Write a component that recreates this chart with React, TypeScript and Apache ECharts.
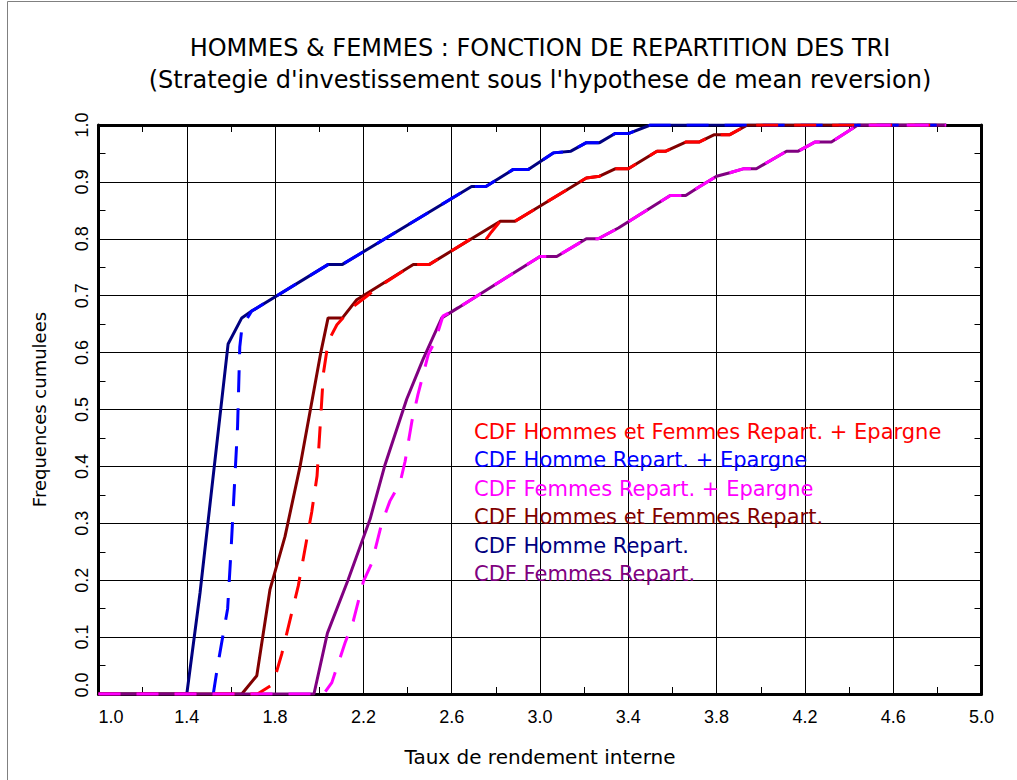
import React, { useEffect, useRef } from 'react';
import * as echarts from 'echarts';

const TITLE_1 = 'HOMMES & FEMMES : FONCTION DE REPARTITION DES TRI';
const TITLE_2 = "(Strategie d'investissement sous l'hypothese de mean reversion)";
const X_NAME = 'Taux de rendement interne';
const Y_NAME = 'Frequences cumulees';

const X_MIN = 1.0;
const X_MAX = 5.0;
const X_STEP = 0.4;
const Y_MIN = 0;
const Y_MAX = 1;
const Y_STEP = 0.1;

// CDF Hommes et Femmes Repart. + Epargne
const hfEpargne: number[][] = [
  [1.0, 0], [1.72, 0], [1.79, 0.017], [1.83, 0.07], [1.905, 0.19], [1.966, 0.32], [1.99, 0.383],
  [2.004, 0.47], [2.019, 0.564], [2.041, 0.62], [2.08, 0.649], [2.154, 0.681], [2.215, 0.699],
  [2.26, 0.713], [2.426, 0.755], [2.499, 0.755], [2.683, 0.799], [2.755, 0.799], [2.78, 0.812],
  [2.82, 0.831], [2.887, 0.831], [3.21, 0.907], [3.27, 0.91], [3.34, 0.923], [3.4, 0.923],
  [3.53, 0.954], [3.57, 0.954], [3.66, 0.97], [3.72, 0.97], [3.79, 0.983], [3.86, 0.983],
  [3.94, 1.0], [4.84, 1.0],
];

// CDF Homme Repart. + Epargne
const hommeEpargne: number[][] = [
  [1.0, 0], [1.52, 0], [1.54, 0.05], [1.585, 0.15], [1.6, 0.25], [1.615, 0.36], [1.63, 0.47],
  [1.64, 0.61], [1.65, 0.645], [1.694, 0.673], [2.041, 0.755], [2.105, 0.755], [2.69, 0.892],
  [2.755, 0.892], [2.879, 0.922], [2.947, 0.922], [3.06, 0.951], [3.14, 0.954], [3.21, 0.969],
  [3.27, 0.969], [3.34, 0.985], [3.4, 0.985], [3.5, 1.0], [4.84, 1.0],
];

// CDF Femmes Repart. + Epargne
const femmesEpargne: number[][] = [
  [1.0, 0], [2.02, 0], [2.057, 0.02], [2.117, 0.09], [2.154, 0.128], [2.2, 0.198], [2.238, 0.23],
  [2.283, 0.3], [2.32, 0.339], [2.366, 0.371], [2.389, 0.409], [2.42, 0.48], [2.447, 0.526],
  [2.494, 0.597], [2.525, 0.62], [2.56, 0.664], [2.63, 0.679], [3.0, 0.769], [3.076, 0.769],
  [3.21, 0.8], [3.264, 0.8], [3.355, 0.819], [3.59, 0.876], [3.66, 0.876], [3.72, 0.891],
  [3.8, 0.91], [3.86, 0.916], [3.92, 0.923], [3.98, 0.923], [4.117, 0.954], [4.17, 0.954],
  [4.245, 0.97], [4.32, 0.97], [4.44, 1.0], [4.84, 1.0],
];

// CDF Hommes et Femmes Repart.
const hfRepart: number[][] = [
  [1.0, 0], [1.649, 0], [1.717, 0.032], [1.777, 0.184], [1.845, 0.277], [1.913, 0.4], [2.007, 0.6],
  [2.04, 0.661], [2.105, 0.661], [2.17, 0.693], [2.426, 0.755], [2.499, 0.755], [2.82, 0.831],
  [2.887, 0.831], [3.21, 0.907], [3.27, 0.91], [3.34, 0.923], [3.4, 0.923], [3.53, 0.954],
  [3.57, 0.954], [3.66, 0.97], [3.72, 0.97], [3.79, 0.983], [3.86, 0.983], [3.94, 1.0], [4.84, 1.0],
];

// CDF Homme Repart.
const hommeRepart: number[][] = [
  [1.0, 0], [1.4, 0], [1.46, 0.178], [1.587, 0.615], [1.649, 0.661], [1.694, 0.673], [2.041, 0.755],
  [2.105, 0.755], [2.69, 0.892], [2.755, 0.892], [2.879, 0.922], [2.947, 0.922], [3.06, 0.951],
  [3.14, 0.954], [3.21, 0.969], [3.27, 0.969], [3.34, 0.985], [3.4, 0.985], [3.5, 1.0], [4.84, 1.0],
];

// CDF Femmes Repart.
const femmesRepart: number[][] = [
  [1.0, 0], [1.976, 0], [2.037, 0.107], [2.13, 0.2], [2.23, 0.307], [2.298, 0.403], [2.396, 0.518],
  [2.47, 0.588], [2.555, 0.661], [2.63, 0.679], [3.0, 0.769], [3.076, 0.769], [3.21, 0.8],
  [3.264, 0.8], [3.355, 0.819], [3.59, 0.876], [3.66, 0.876], [3.72, 0.891], [3.8, 0.91],
  [3.86, 0.916], [3.92, 0.923], [3.98, 0.923], [4.117, 0.954], [4.17, 0.954], [4.245, 0.97],
  [4.32, 0.97], [4.44, 1.0], [4.84, 1.0],
];

const SERIES_NAMES = [
  'CDF Hommes et Femmes Repart. + Epargne',
  'CDF Homme Repart. + Epargne',
  'CDF Femmes Repart. + Epargne',
  'CDF Hommes et Femmes Repart.',
  'CDF Homme Repart.',
  'CDF Femmes Repart.',
];
const SERIES_COLORS = ['#ff0000', '#0000ff', '#ff00ff', '#800000', '#000080', '#800080'];
const SERIES_DASHED = [true, true, true, false, false, false];
const SERIES_DATA = [hfEpargne, hommeEpargne, femmesEpargne, hfRepart, hommeRepart, femmesRepart];
// draw solid curves first, dashed on top
const DRAW_ORDER = [4, 3, 5, 1, 0, 2];

const LABEL_FONT = 'Liberation Sans, Arial, sans-serif';
const TEXT_FONT = 'DejaVu Sans, Verdana, sans-serif';

function buildOption() {
  const axisLine = { show: true, onZero: false, lineStyle: { color: '#000', width: 3 } };
  const axisTick = { show: true, inside: true, length: 7, lineStyle: { color: '#000', width: 1 } };
  const minorTick = { show: true, splitNumber: 2, length: 7, lineStyle: { color: '#000', width: 1 } };
  const fmt = (v: number) => v.toFixed(1);

  return {
    animation: false,
    backgroundColor: '#ffffff',
    title: [
      {
        text: TITLE_1,
        left: 540,
        top: 36,
        padding: 0,
        textAlign: 'center',
        textStyle: { fontFamily: TEXT_FONT, fontSize: 24, fontWeight: 'normal', color: '#000' },
      },
      {
        text: TITLE_2,
        left: 540,
        top: 68,
        padding: 0,
        textAlign: 'center',
        textStyle: { fontFamily: TEXT_FONT, fontSize: 24, fontWeight: 'normal', color: '#000' },
      },
    ],
    legend: {
      orient: 'vertical',
      left: 469,
      top: 421.5,
      padding: 0,
      icon: 'none',
      itemWidth: 0,
      itemHeight: 21,
      itemGap: 7.4,
      selectedMode: false,
      textStyle: { fontFamily: TEXT_FONT, fontSize: 21, lineHeight: 21 },
      data: SERIES_NAMES.map((n, i) => ({ name: n, textStyle: { color: SERIES_COLORS[i] } })),
    },
    grid: { left: 98.5, right: 35.5, top: 125, bottom: 86, containLabel: false },
    xAxis: [
      {
        type: 'value',
        position: 'bottom',
        min: X_MIN,
        max: X_MAX,
        interval: X_STEP,
        axisLine,
        axisTick,
        minorTick,
        splitLine: { show: true, lineStyle: { color: '#000', width: 1 } },
        axisLabel: {
          fontFamily: LABEL_FONT,
          fontSize: 18,
          color: '#000',
          margin: 14,
          formatter: fmt,
          alignMinLabel: 'left',
        },
        name: X_NAME,
        nameLocation: 'middle',
        nameGap: 53,
        nameTextStyle: { fontFamily: TEXT_FONT, fontSize: 20, color: '#000' },
      },
      {
        type: 'value',
        position: 'top',
        min: X_MIN,
        max: X_MAX,
        interval: X_STEP,
        axisLine,
        axisTick,
        minorTick,
        splitLine: { show: false },
        axisLabel: { show: false },
      },
    ],
    yAxis: [
      {
        type: 'value',
        position: 'left',
        min: Y_MIN,
        max: Y_MAX,
        interval: Y_STEP,
        axisLine,
        axisTick,
        minorTick,
        splitLine: { show: true, lineStyle: { color: '#000', width: 1 } },
        axisLabel: {
          rotate: 90,
          fontFamily: LABEL_FONT,
          fontSize: 18,
          color: '#000',
          margin: 8,
          formatter: (v: number) => (v === 0 ? '{m|' + fmt(v) + '}' : fmt(v)),
          rich: { m: { fontFamily: LABEL_FONT, fontSize: 18, color: '#000', padding: [0, 0, 0, 18] } },
        },
        name: Y_NAME,
        nameLocation: 'middle',
        nameGap: 50,
        nameTextStyle: { fontFamily: TEXT_FONT, fontSize: 18, color: '#000' },
      },
      {
        type: 'value',
        position: 'right',
        min: Y_MIN,
        max: Y_MAX,
        interval: Y_STEP,
        axisLine,
        axisTick,
        minorTick,
        splitLine: { show: false },
        axisLabel: { show: false },
      },
    ],
    graphic: [
      {
        type: 'rect',
        silent: true,
        z: -10,
        shape: { x: 7.5, y: 1.5, width: 1040, height: 800 },
        style: { fill: 'none', stroke: '#808080', lineWidth: 1 },
      },
    ],
    series: DRAW_ORDER.map((i) => ({
      type: 'line',
      name: SERIES_NAMES[i],
      data: SERIES_DATA[i],
      xAxisIndex: 0,
      yAxisIndex: 0,
      showSymbol: false,
      symbol: 'none',
      silent: true,
      color: SERIES_COLORS[i],
      lineStyle: {
        color: SERIES_COLORS[i],
        width: 3,
        type: SERIES_DASHED[i] ? [22, 16] : 'solid',
      },
    })),
  };
}

export default function App() {
  const ref = useRef<HTMLDivElement>(null);
  useEffect(() => {
    if (!ref.current) return;
    const chart = echarts.init(ref.current, null, { renderer: 'svg' });
    chart.setOption(buildOption() as any);
    return () => chart.dispose();
  }, []);
  return (
    <div
      ref={ref}
      style={{ position: 'absolute', left: 0, top: 0, width: 1017, height: 780, background: '#fff' }}
    />
  );
}
